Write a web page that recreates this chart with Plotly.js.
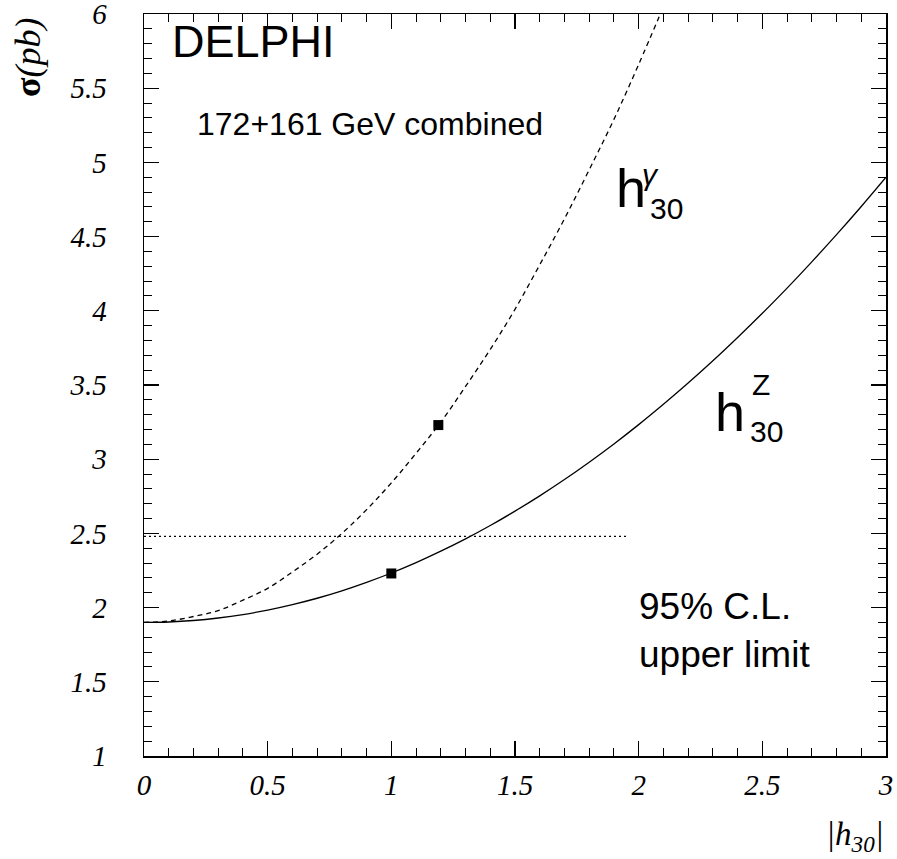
<!DOCTYPE html>
<html>
<head>
<meta charset="utf-8">
<script src="https://cdn.plot.ly/plotly-3.0.1.min.js"></script>
<style>html,body{margin:0;padding:0;background:#fff;}#chart{width:897px;height:859px;}</style>
</head>
<body>
<div id="chart"></div>
<script>
// h30 gamma curve (dashed)
const gammaX = [0,0.1,0.2,0.3,0.4,0.5,0.6,0.7,0.8,0.9,1.0,1.1,1.2,1.3,1.4,1.5,1.6,1.7,1.8,1.9,2.0,2.1];
const gammaY = [1.90,1.91,1.94,1.98,2.05,2.13,2.24,2.36,2.50,2.66,2.84,3.04,3.25,3.49,3.74,4.01,4.31,4.62,4.95,5.29,5.66,6.05];
// h30 Z curve (solid)
const zX = [0,0.1,0.2,0.3,0.4,0.5,0.6,0.7,0.8,0.9,1.0,1.1,1.2,1.3,1.4,1.5,1.6,1.7,1.8,1.9,2.0,2.1,2.2,2.3,2.4,2.5,2.6,2.7,2.8,2.9,3.0];
const zY = [1.900,1.903,1.913,1.930,1.953,1.983,2.020,2.063,2.113,2.170,2.233,2.303,2.380,2.463,2.553,2.650,2.753,2.863,2.980,3.103,3.233,3.370,3.513,3.663,3.820,3.983,4.153,4.330,4.513,4.703,4.900];
// measured points
const gammaPointX = [1.19];
const gammaPointY = [3.23];
const zPointX = [1.0];
const zPointY = [2.23];
// 95% C.L. upper limit line
const limitX = [0, 1.95];
const limitY = [2.48, 2.48];

const xTickVals = [0,0.5,1,1.5,2,2.5,3];
const xTickText = ['0','0.5','1','1.5','2','2.5','3'];
const yTickVals = [1,1.5,2,2.5,3,3.5,4,4.5,5,5.5,6];
const yTickText = ['1','1.5','2','2.5','3','3.5','4','4.5','5','5.5','6'];

const traces = [
  {x: gammaX, y: gammaY, mode:'lines', line:{color:'#000', width:1.3, dash:'5px,4px', shape:'spline'}, hoverinfo:'skip'},
  {x: zX, y: zY, mode:'lines', line:{color:'#000', width:1.3, shape:'spline'}, hoverinfo:'skip'},
  {x: limitX, y: limitY, mode:'lines', line:{color:'#000', width:1.2, dash:'2px,3px'}, hoverinfo:'skip'},
  {x: gammaPointX, y: gammaPointY, mode:'markers', marker:{symbol:'square', size:10, color:'#000'}},
  {x: zPointX, y: zPointY, mode:'markers', marker:{symbol:'square', size:10, color:'#000'}}
];

function px2x(p){ return (p-144)/742*3; }
function px2y(p){ return 1 + (756-p)/742*5; }

const sans = 'Liberation Sans, Arial, sans-serif';
const serif = 'Liberation Serif, Times New Roman, serif';

function ann(o){ return Object.assign({showarrow:false, xref:'x', yref:'y'}, o); }

const annotations = [
  ann({text:'DELPHI', x:px2x(170), y:px2y(41), xanchor:'left', yanchor:'middle', font:{family:sans, size:45, color:'#000'}}),
  ann({text:'172+161 GeV combined', x:px2x(195), y:px2y(124), xanchor:'left', yanchor:'middle', font:{family:sans, size:32, color:'#000'}}),
  ann({text:'95% C.L.<br>upper limit', x:px2x(637), y:px2y(630), xanchor:'left', yanchor:'middle', align:'left', font:{family:sans, size:37, color:'#000'}}),
  ann({text:'h', x:px2x(614), y:px2y(188), xanchor:'left', yanchor:'middle', font:{family:sans, size:54, color:'#000'}}),
  ann({text:'<i>γ</i>', x:px2x(640), y:px2y(174), xanchor:'left', yanchor:'middle', font:{family:sans, size:30, color:'#000'}}),
  ann({text:'30', x:px2x(648), y:px2y(208), xanchor:'left', yanchor:'middle', font:{family:sans, size:30, color:'#000'}}),
  ann({text:'h', x:px2x(713), y:px2y(412), xanchor:'left', yanchor:'middle', font:{family:sans, size:54, color:'#000'}}),
  ann({text:'Z', x:px2x(750), y:px2y(384), xanchor:'left', yanchor:'middle', font:{family:sans, size:30, color:'#000'}}),
  ann({text:'30', x:px2x(748), y:px2y(431), xanchor:'left', yanchor:'middle', font:{family:sans, size:30, color:'#000'}}),
  ann({text:'<b>σ</b><i>(pb)</i>', xref:'paper', yref:'paper', x:(28-144)/742, y:(756-57)/742, xanchor:'center', yanchor:'middle', textangle:-90, font:{family:serif, size:36, color:'#000'}}),
  ann({text:'<i>|h<sub>30</sub>|</i>', xref:'paper', yref:'paper', x:(886-144)/742, y:(756-836)/742, xanchor:'right', yanchor:'middle', font:{family:serif, size:33, color:'#000'}})
];

const axisCommon = {
  showgrid:false, zeroline:false, showline:true, linecolor:'#000', linewidth:1.5,
  mirror:'ticks', ticks:'inside', ticklen:15, tickwidth:1.2, tickcolor:'#000',
  ticklabeloverflow:'allow',
  minor:{ticks:'inside', ticklen:8, tickwidth:1, tickcolor:'#000', dtick:0.1}
};

const layout = {
  width:897, height:859,
  margin:{l:144, r:11, t:14, b:103},
  paper_bgcolor:'#fff', plot_bgcolor:'#fff',
  showlegend:false,
  xaxis: Object.assign({}, axisCommon, {range:[0,3], tickvals:xTickVals, ticktext:xTickText, ticklabelstandoff:3,
    tickfont:{family:serif, size:29, color:'#000', style:'italic'}}),
  yaxis: Object.assign({}, axisCommon, {range:[1,6], tickvals:yTickVals, ticktext:yTickText, ticklabelstandoff:30,
    tickfont:{family:serif, size:29, color:'#000', style:'italic'}}),
  annotations: annotations
};

Plotly.newPlot('chart', traces, layout, {staticPlot:true});
</script>
</body>
</html>
